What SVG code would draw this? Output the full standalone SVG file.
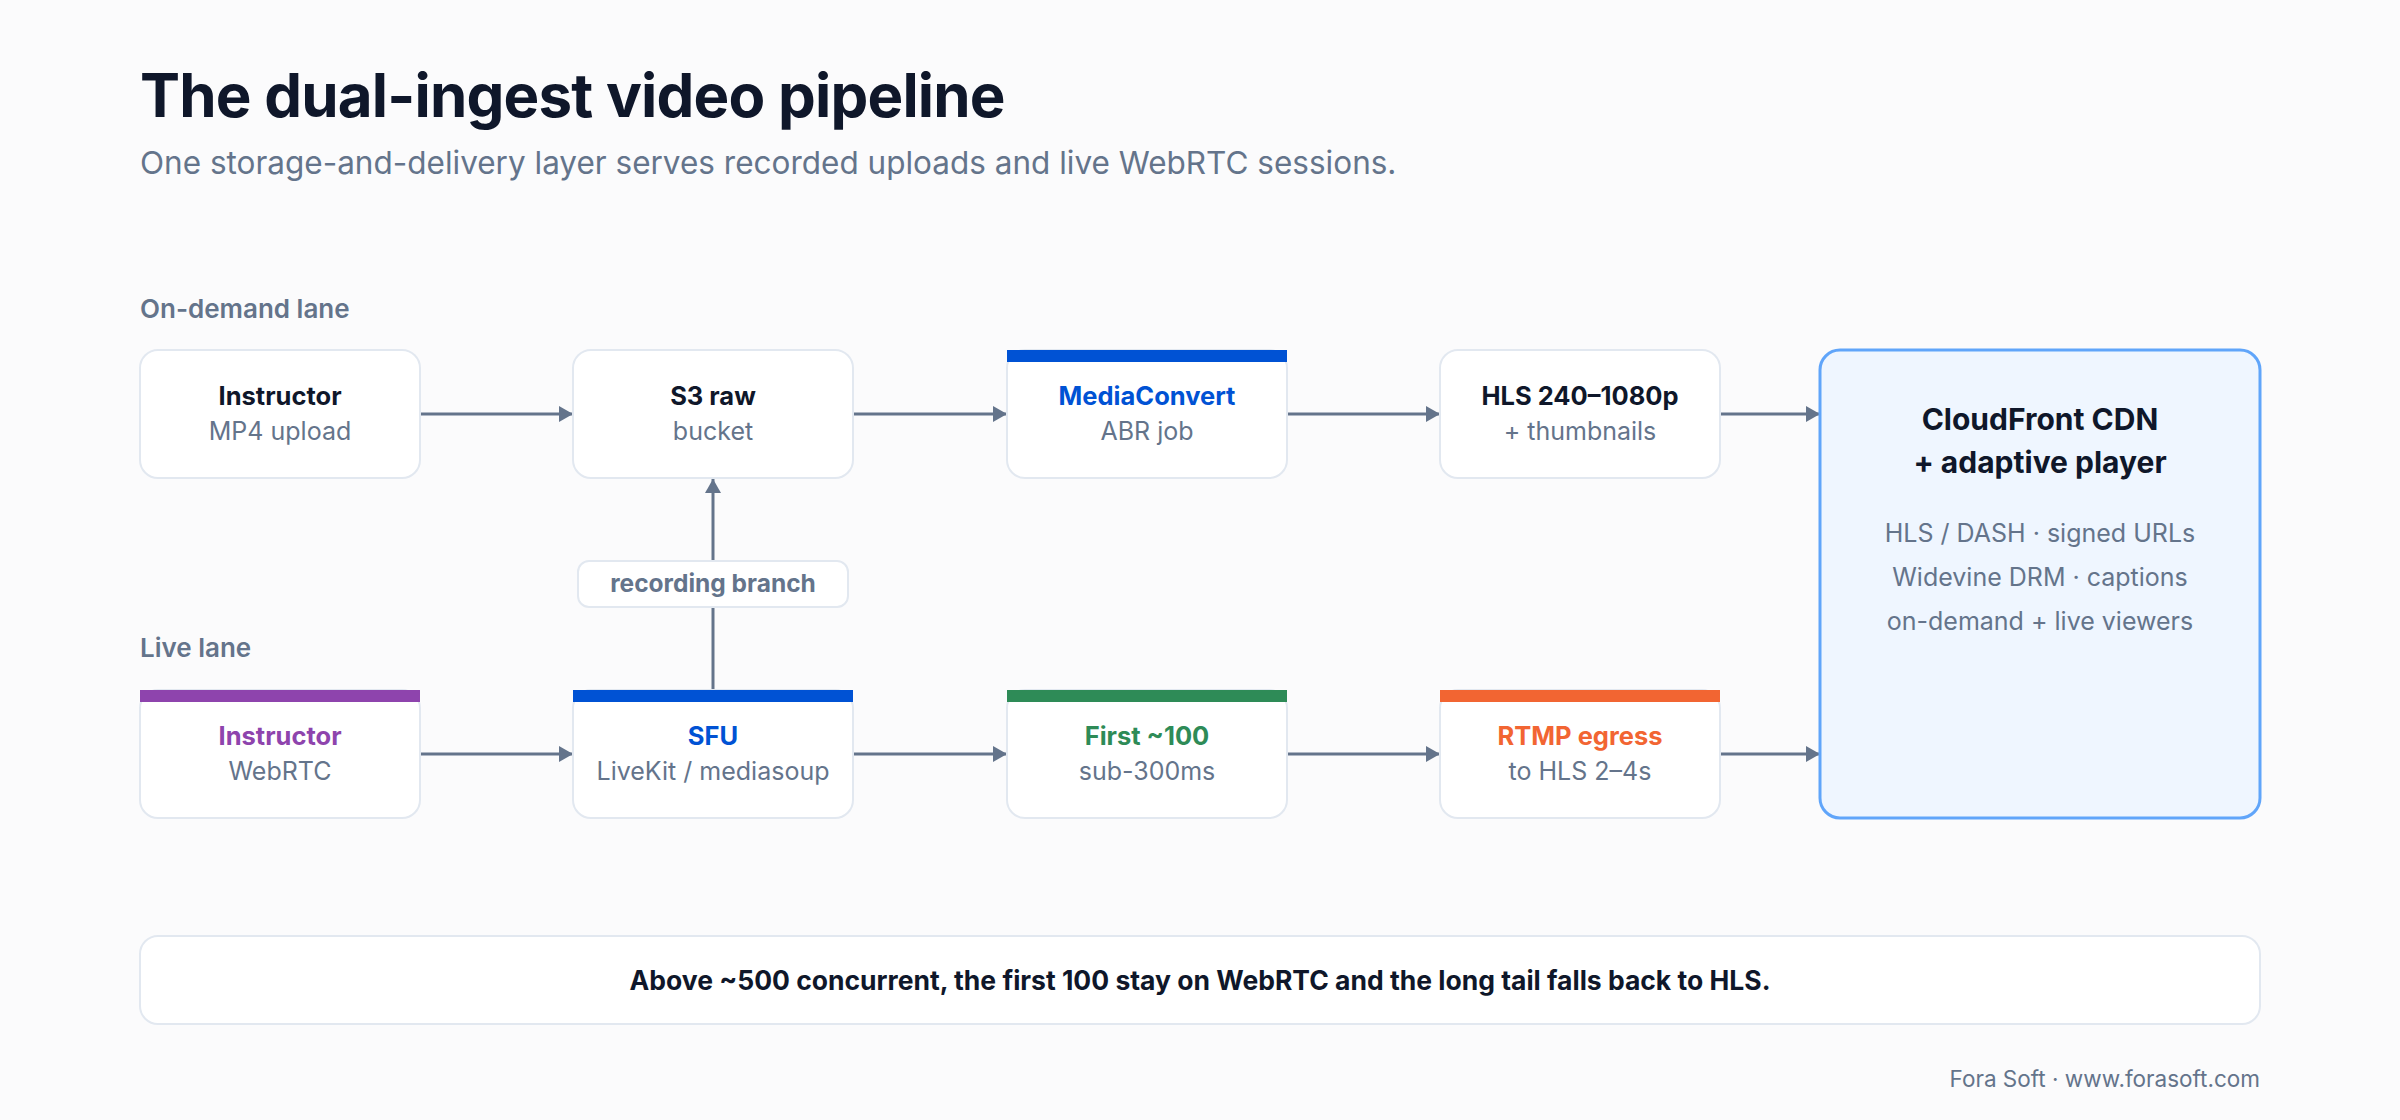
<svg xmlns="http://www.w3.org/2000/svg" width="2400" height="1120" viewBox="0 0 2400 1120">
<style>
text{font-family:Inter,"Noto Sans","Liberation Sans",sans-serif}
.box{fill:#ffffff;stroke:#e2e8f0;stroke-width:2}
.t{font-size:25.5px;font-weight:700;fill:#0f172a;text-anchor:middle}
.s{font-size:25px;font-weight:400;fill:#64748b;text-anchor:middle}
.lane{font-size:26px;font-weight:600;fill:#64748b}
.edge{stroke:#64748b;stroke-width:3;fill:none;marker-end:url(#ah)}
</style>
<defs>
<marker id="ah" markerUnits="userSpaceOnUse" markerWidth="16" markerHeight="18" refX="14" refY="8" orient="auto">
<path d="M0,0 L14,8 L0,16 z" fill="#64748b"/>
</marker>
</defs>
<rect width="2400" height="1120" fill="#fbfbfc"/>
<text x="140" y="117" style="font-size:60px;font-weight:700;fill:#0f172a;letter-spacing:-0.8px">The dual-ingest video pipeline</text>
<text x="140" y="174" style="font-size:31.5px;font-weight:400;fill:#64748b">One storage-and-delivery layer serves recorded uploads and live WebRTC sessions.</text>
<text class="lane" x="140" y="318">On-demand lane</text>
<text class="lane" x="140" y="657">Live lane</text>

<g id="connectors">
<line class="edge" x1="420" y1="414" x2="573" y2="414"/>
<line class="edge" x1="853" y1="414" x2="1007" y2="414"/>
<line class="edge" x1="1287" y1="414" x2="1440" y2="414"/>
<line class="edge" x1="1720" y1="414" x2="1820" y2="414"/>
<line class="edge" x1="420" y1="754" x2="573" y2="754"/>
<line class="edge" x1="853" y1="754" x2="1007" y2="754"/>
<line class="edge" x1="1287" y1="754" x2="1440" y2="754"/>
<line class="edge" x1="1720" y1="754" x2="1820" y2="754"/>
<line class="edge" x1="713" y1="690" x2="713" y2="479"/>
<g id="recording-branch">
<rect x="578" y="561" width="270" height="46" rx="11" fill="#ffffff" stroke="#e2e8f0" stroke-width="2"/>
<text x="713" y="592" style="font-size:24.5px;font-weight:700;fill:#64748b;text-anchor:middle">recording branch</text>
</g>
</g>

<g id="od-instructor">
<rect class="box" x="140" y="350" width="280" height="128" rx="18"/>
<text class="t" x="280" y="405">Instructor</text>
<text class="s" x="280" y="440">MP4 upload</text>
</g>
<g id="s3-raw">
<rect class="box" x="573" y="350" width="280" height="128" rx="18"/>
<text class="t" x="713" y="405">S3 raw</text>
<text class="s" x="713" y="440">bucket</text>
</g>
<g id="mediaconvert">
<rect class="box" x="1007" y="350" width="280" height="128" rx="18"/>
<rect x="1007" y="350" width="280" height="12" fill="#0052d4"/>
<text class="t" x="1147" y="405" style="fill:#0052d4">MediaConvert</text>
<text class="s" x="1147" y="440">ABR job</text>
</g>
<g id="hls">
<rect class="box" x="1440" y="350" width="280" height="128" rx="18"/>
<text class="t" x="1580" y="405">HLS 240–1080p</text>
<text class="s" x="1580" y="440">+ thumbnails</text>
</g>

<g id="live-instructor">
<rect class="box" x="140" y="690" width="280" height="128" rx="18"/>
<rect x="140" y="690" width="280" height="12" fill="#8e44ad"/>
<text class="t" x="280" y="745" style="fill:#8e44ad">Instructor</text>
<text class="s" x="280" y="780">WebRTC</text>
</g>
<g id="sfu">
<rect class="box" x="573" y="690" width="280" height="128" rx="18"/>
<rect x="573" y="690" width="280" height="12" fill="#0052d4"/>
<text class="t" x="713" y="745" style="fill:#0052d4">SFU</text>
<text class="s" x="713" y="780">LiveKit / mediasoup</text>
</g>
<g id="first-100">
<rect class="box" x="1007" y="690" width="280" height="128" rx="18"/>
<rect x="1007" y="690" width="280" height="12" fill="#2e8b57"/>
<text class="t" x="1147" y="745" style="fill:#2e8b57">First ~100</text>
<text class="s" x="1147" y="780">sub-300ms</text>
</g>
<g id="rtmp-egress">
<rect class="box" x="1440" y="690" width="280" height="128" rx="18"/>
<rect x="1440" y="690" width="280" height="12" fill="#f26532"/>
<text class="t" x="1580" y="745" style="fill:#f26532">RTMP egress</text>
<text class="s" x="1580" y="780">to HLS 2–4s</text>
</g>

<g id="cloudfront">
<rect x="1820" y="350" width="440" height="468" rx="20" fill="#eff6ff" stroke="#60a5fa" stroke-width="3"/>
<text x="2040" y="430" style="font-size:30px;font-weight:700;fill:#0f172a;text-anchor:middle">CloudFront CDN</text>
<text x="2040" y="473" style="font-size:30px;font-weight:700;fill:#0f172a;text-anchor:middle">+ adaptive player</text>
<text class="s" x="2040" y="542">HLS / DASH · signed URLs</text>
<text class="s" x="2040" y="586">Widevine DRM · captions</text>
<text class="s" x="2040" y="630">on-demand + live viewers</text>
</g>

<g id="note">
<rect x="140" y="936" width="2120" height="88" rx="18" fill="#ffffff" stroke="#e2e8f0" stroke-width="2"/>
<text x="1200" y="990" style="font-size:26.5px;font-weight:700;fill:#0f172a;text-anchor:middle">Above ~500 concurrent, the first 100 stay on WebRTC and the long tail falls back to HLS.</text>
</g>
<text x="2260" y="1087" style="font-size:22.5px;font-weight:400;fill:#64748b;text-anchor:end">Fora Soft · www.forasoft.com</text>
</svg>
